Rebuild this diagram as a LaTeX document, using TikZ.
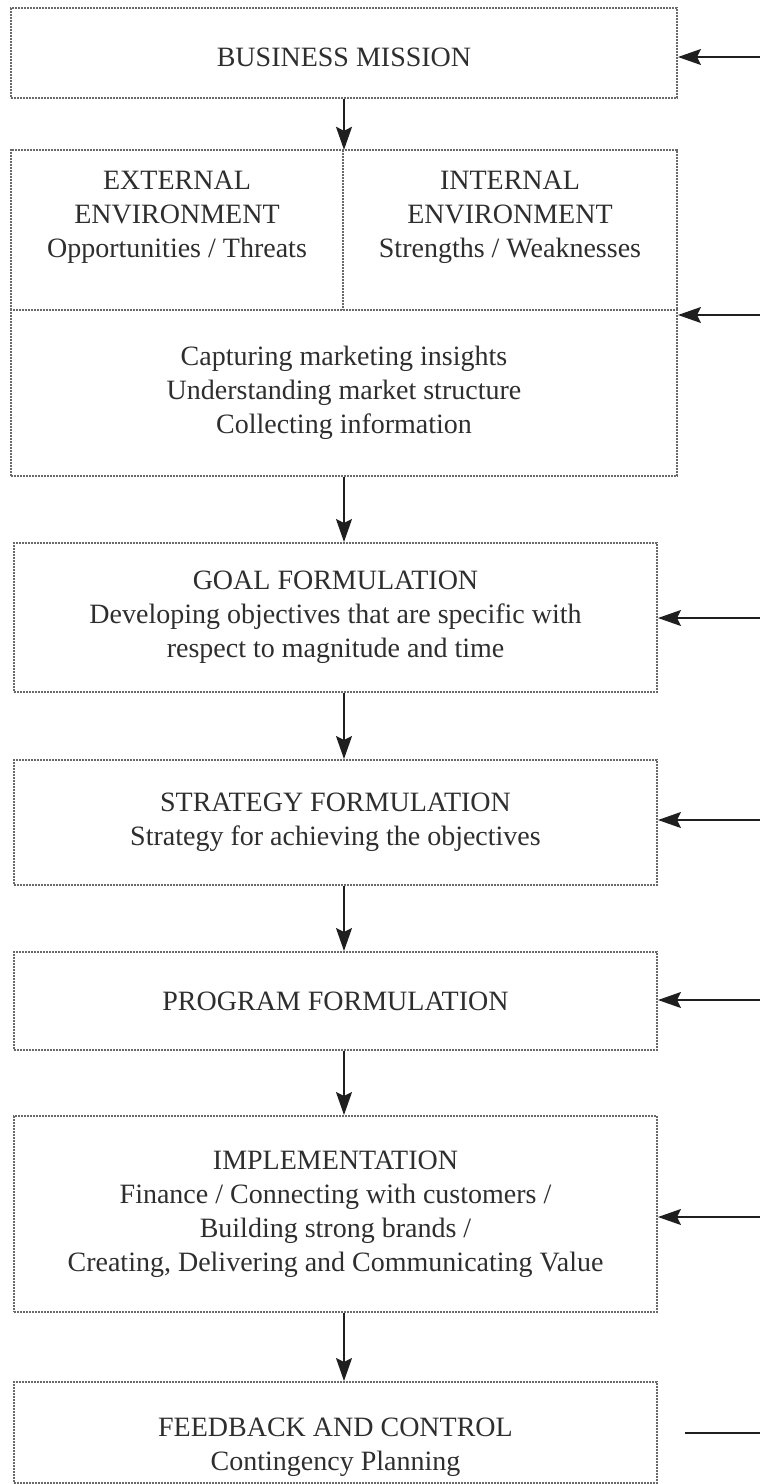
\documentclass[tikz,border=0pt]{standalone}
\usepackage{fontspec}
\setmainfont{Liberation Serif}
\usetikzlibrary{arrows.meta}
\definecolor{ink}{HTML}{2E2E2E}
\definecolor{frame}{HTML}{6A6A6A}
\begin{document}
\begin{tikzpicture}[x=1pt,y=-1pt,
  outline/.style={draw=frame, line width=2pt, densely dotted},
  box/.style={outline, inner sep=0pt,
    text=ink, align=center, font=\fontsize{28}{34}\selectfont},
  area/.style={inner sep=0pt},
  txt/.style={text=ink, align=center, font=\fontsize{28}{34}\selectfont, inner sep=0pt},
  flow/.style={draw=black!88, line width=1.7pt, -{Stealth[length=23pt,width=16pt,inset=4pt]}}]
\useasboundingbox (0,0) rectangle (760,1484);

% process boxes
\node[box, minimum width=666, minimum height=90] (mission) at (344,53) {};
\node[txt] at ([yshift=-4pt]mission.center) {BUSINESS MISSION};
\node[area, minimum width=332, minimum height=160] (ext) at (177,230) {};
\node[area, minimum width=334, minimum height=160] (int) at (510,230) {};
\node[txt] at ([yshift=13pt]ext.center) {EXTERNAL\\ENVIRONMENT\\Opportunities / Threats};
\node[txt] at ([yshift=13pt]int.center) {INTERNAL\\ENVIRONMENT\\Strengths / Weaknesses};
\node[box, minimum width=666, minimum height=166] (cap) at (344,393)
  {Capturing marketing insights\\Understanding market structure\\Collecting information};
% environment frame (its lower edge is the top of the box below)
\draw[outline] (ext.south west) |- (int.north east) -- (int.south east);
\draw[outline] (ext.north east) -- (ext.south east);
\node[box, minimum width=643, minimum height=149] (goal) at (335.5,617.5)
  {GOAL FORMULATION\\Developing objectives that are specific with\\respect to magnitude and time};
\node[box, minimum width=643, minimum height=125] (strat) at (335.5,822.5)
  {STRATEGY FORMULATION\\Strategy for achieving the objectives};
\node[box, minimum width=643, minimum height=98] (prog) at (335.5,1001)
  {PROGRAM FORMULATION};
\node[box, minimum width=643, minimum height=196] (impl) at (335.5,1214)
  {IMPLEMENTATION\\Finance / Connecting with customers /\\Building strong brands /\\Creating, Delivering and Communicating Value};
\node[box, minimum width=643, minimum height=101] (feed) at (335.5,1432.5) {};
\node[txt] at ([yshift=-15pt]feed.center) {FEEDBACK AND CONTROL\\Contingency Planning};

% main flow
\draw[flow] (mission.south) -- (mission.south |- ext.north);
\draw[flow] (cap.south) -- (cap.south |- goal.north);
\draw[flow] (cap.south |- goal.south) -- (cap.south |- strat.north);
\draw[flow] (cap.south |- strat.south) -- (cap.south |- prog.north);
\draw[flow] (cap.south |- prog.south) -- (cap.south |- impl.north);
\draw[flow] (cap.south |- impl.south) -- (cap.south |- feed.north);

% feedback inputs entering from the right
\coordinate (f1) at (760,57);
\coordinate (f2) at (760,315);
\coordinate (f3) at (760,618);
\coordinate (f4) at (760,820);
\coordinate (f5) at (760,1000);
\coordinate (f6) at (760,1217);
\coordinate (f7) at (760,1433);
\coordinate (f7s) at (685,1433);
\draw[flow] (f1) -- (f1 -| mission.east);
\draw[flow] (f2) -- (f2 -| cap.east);
\draw[flow] (f3) -- (f3 -| goal.east);
\draw[flow] (f4) -- (f4 -| strat.east);
\draw[flow] (f5) -- (f5 -| prog.east);
\draw[flow] (f6) -- (f6 -| impl.east);
\draw[draw=black!88, line width=1.7pt] (f7s) -- (f7);
\end{tikzpicture}
\end{document}
